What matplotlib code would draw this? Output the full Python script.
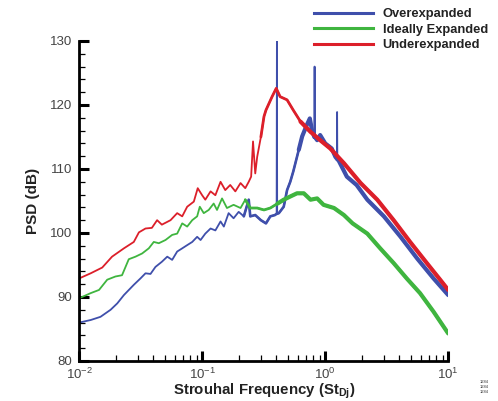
import numpy as np
import matplotlib
matplotlib.use("Agg")
import matplotlib.pyplot as plt
from matplotlib.ticker import MultipleLocator, LogLocator

plt.rcParams['font.family'] = ['Liberation Sans', 'DejaVu Sans']
plt.rcParams['mathtext.fontset'] = 'custom'
plt.rcParams['mathtext.rm'] = 'Liberation Sans'
plt.rcParams['mathtext.bf'] = 'Liberation Sans:bold'

# Strouhal number / PSD values
st_under = [0.01, 0.0124, 0.0154, 0.0185, 0.0231, 0.0278, 0.0306, 0.0346, 0.039, 0.043,
            0.047, 0.0553, 0.0626, 0.0688, 0.0755, 0.0855, 0.092, 0.0999, 0.106, 0.117,
            0.128, 0.141, 0.154, 0.169, 0.186, 0.205, 0.224, 0.239, 0.25, 0.259,
            0.27, 0.28, 0.30, 0.318, 0.33, 0.37, 0.40, 0.43, 0.49, 0.55,
            0.63, 0.76, 0.91, 1.10, 1.42, 1.94, 2.65, 3.6, 4.9, 6.7, 8.6, 10.0]
psd_under = [92.9, 93.7, 94.6, 96.3, 97.6, 98.6, 100.1, 100.7, 100.8, 102.0,
             101.3, 102.0, 103.1, 102.6, 104.1, 104.9, 107.0, 105.9, 105.2, 106.5,
             105.9, 108.0, 106.7, 107.5, 106.5, 107.8, 107.0, 108.0, 108.8, 114.3,
             109.3, 111.9, 115.0, 118.2, 119.2, 121.3, 122.6, 121.3, 120.8, 119.2,
             117.4, 115.8, 114.5, 113.2, 110.9, 107.8, 105.2, 102.0, 98.6, 95.3, 92.7, 91.1]

st_ideal = [0.01, 0.0124, 0.0145, 0.0169, 0.0197, 0.0223, 0.0253, 0.0287, 0.0325, 0.0368,
            0.0404, 0.0444, 0.0503, 0.057, 0.0626, 0.0688, 0.0755, 0.083, 0.091, 0.0956,
            0.103, 0.113, 0.124, 0.132, 0.145, 0.159, 0.18, 0.205, 0.224, 0.246,
            0.28, 0.318, 0.358, 0.41, 0.46, 0.52, 0.59, 0.67, 0.76, 0.86,
            0.97, 1.18, 1.42, 1.67, 2.2, 2.8, 3.6, 4.6, 5.9, 7.6, 10.0]
psd_ideal = [89.8, 90.6, 91.1, 92.7, 93.2, 93.4, 95.9, 96.3, 96.8, 97.6,
             98.6, 98.4, 98.9, 99.7, 99.9, 101.5, 101.0, 102.0, 102.6, 104.1,
             103.1, 103.6, 104.6, 103.6, 105.4, 103.9, 104.4, 103.9, 105.2, 103.9,
             103.9, 103.6, 103.9, 104.6, 105.2, 105.7, 106.2, 106.2, 105.2, 105.4,
             104.4, 103.9, 102.8, 101.5, 99.9, 97.6, 95.3, 92.9, 90.6, 87.7, 84.3]

st_over = [0.01, 0.0124, 0.0149, 0.018, 0.0204, 0.0231, 0.0278, 0.0315, 0.0346, 0.038,
           0.0417, 0.047, 0.052, 0.057, 0.0626, 0.0688, 0.0755, 0.083, 0.091, 0.097,
           0.106, 0.117, 0.128, 0.141, 0.15, 0.164, 0.18, 0.198, 0.218, 0.239,
           0.246, 0.27, 0.30, 0.33, 0.358, 0.39, 0.403, 0.405, 0.407, 0.42,
           0.46, 0.49, 0.52, 0.55, 0.61, 0.65, 0.71, 0.75, 0.78, 0.815,
           0.82, 0.825, 0.86, 0.91, 1.0, 1.13, 1.21, 1.245, 1.25, 1.255,
           1.28, 1.5, 1.8, 2.2, 3.0, 4.1, 5.6, 7.6, 10.0]
psd_over = [86.0, 86.4, 86.9, 88.0, 89.0, 90.3, 91.9, 92.9, 93.7, 93.6,
            94.7, 95.5, 96.3, 95.8, 97.1, 97.6, 98.1, 98.6, 99.4, 98.9,
            99.9, 100.7, 100.4, 101.8, 101.0, 103.1, 102.3, 103.3, 102.6, 105.2,
            102.6, 102.8, 102.0, 101.5, 102.6, 102.8, 103.0, 129.9, 103.0, 103.1,
            104.1, 106.7, 108.0, 109.6, 113.0, 115.1, 116.9, 117.9, 116.1, 115.0,
            126.0, 115.0, 114.5, 115.3, 114.0, 113.2, 111.9, 111.6, 118.9, 111.5,
            111.4, 108.8, 107.5, 105.2, 102.6, 99.4, 96.0, 92.9, 90.3]
# tonal spikes (screech) of the overexpanded jet, drawn thin only
over_spikes = [0.405, 0.82, 1.25]

blue = '#3f4fab'
green = '#3fb53f'
red = '#dc1f2a'

fig = plt.figure(figsize=(4.98, 4.01), dpi=100)
ax = fig.add_axes([0.159, 0.0998, 0.741, 0.798])

ax.plot(st_over, psd_over, color=blue, lw=1.3, label="Overexpanded")
ax.plot(st_ideal, psd_ideal, color=green, lw=1.3, label="Ideally Expanded")
ax.plot(st_under, psd_under, color=red, lw=1.3, label="Underexpanded")


def thick(st, psd, c, start, lw, skip=()):
    # broadband part of the spectrum is dense, so it reads as a wider band
    s = np.array(st)
    p = np.array(psd)
    m = (s >= start) & ~np.isin(s, skip)
    ax.plot(s[m], p[m], color=c, lw=lw, solid_capstyle='round', solid_joinstyle='round')


thick(st_over, psd_over, blue, 0.2, 1.9, over_spikes)
thick(st_over, psd_over, blue, 0.6, 3.0, over_spikes)
thick(st_ideal, psd_ideal, green, 0.22, 2.0)
thick(st_ideal, psd_ideal, green, 0.4, 3.0)
thick(st_under, psd_under, red, 0.3, 2.0)
thick(st_under, psd_under, red, 0.6, 3.0)

ax.set_xscale('log')
ax.set_xlim(0.01, 10)
ax.set_ylim(80, 130)
ax.yaxis.set_major_locator(MultipleLocator(10))
ax.yaxis.set_minor_locator(MultipleLocator(2))
ax.xaxis.set_major_locator(LogLocator(base=10))
ax.xaxis.set_minor_locator(LogLocator(base=10, subs=np.arange(2, 10)))
ax.xaxis.set_minor_formatter(plt.NullFormatter())

ax.spines['top'].set_visible(False)
ax.spines['right'].set_visible(False)
ax.spines['left'].set_linewidth(2)
ax.spines['bottom'].set_linewidth(2)
ax.tick_params(which='major', direction='in', length=7, width=2.2,
               labelsize=9.5, labelcolor='#444444', pad=5)
ax.tick_params(axis='x', which='major', pad=4.5)
ax.tick_params(which='minor', direction='in', length=4, width=0.9)
for lab in ax.get_yticklabels():
    lab.set_verticalalignment('center_baseline')

ax.set_xlabel(r"Strouhal Frequency (St$_{\mathbf{Dj}}$)", fontsize=10.8,
              fontweight='bold', color='#222222', labelpad=-1)
ax.set_ylabel("PSD (dB)", fontsize=11, fontweight='bold', color='#222222', labelpad=7)

leg = ax.legend(loc='upper left', bbox_to_anchor=(0.605, 1.138), frameon=False,
                handlelength=4.6, handletextpad=0.7, labelspacing=0.25,
                prop={'size': 9.3, 'weight': 'bold'})
for h in leg.get_lines():
    h.set_linewidth(2.2)
for t in leg.get_texts():
    t.set_color('#222222')

for i in range(3):
    fig.text(0.973, 0.045 - i * 0.013, "1284", fontsize=3, color='#333333', ha='center')

plt.savefig("out.png", dpi=100)
